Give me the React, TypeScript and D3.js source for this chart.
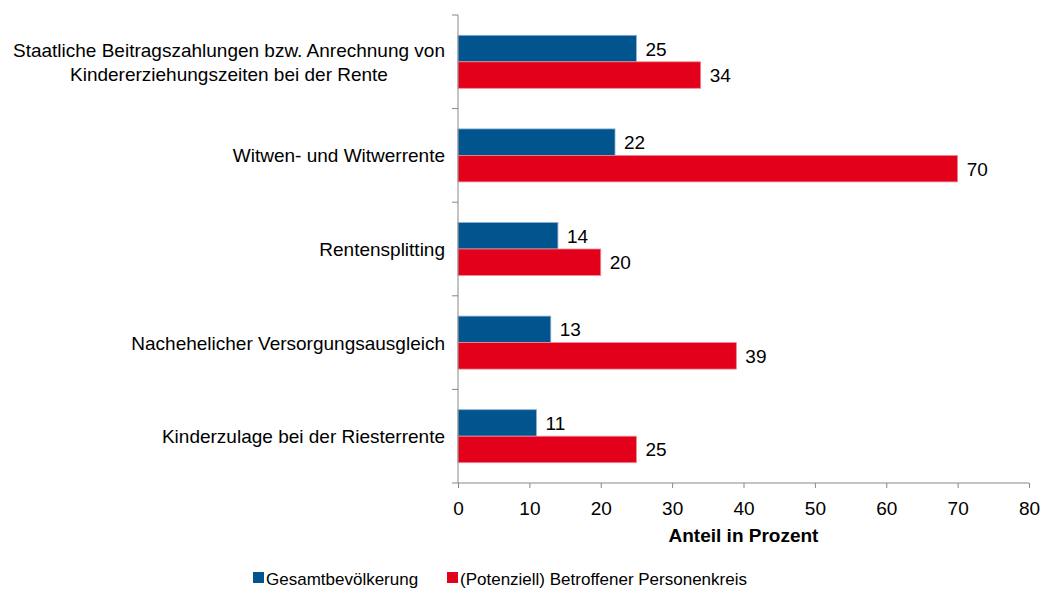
import React, { useEffect, useRef } from 'react';
import * as d3 from 'd3';

const categories = [
  ['Staatliche Beitragszahlungen bzw. Anrechnung von', 'Kindererziehungszeiten bei der Rente'],
  ['Witwen- und Witwerrente'],
  ['Rentensplitting'],
  ['Nachehelicher Versorgungsausgleich'],
  ['Kinderzulage bei der Riesterrente'],
];
const gesamt = [25, 22, 14, 13, 11];
const betroffen = [34, 70, 20, 39, 25];
const seriesNames = ['Gesamtbevölkerung', '(Potenziell) Betroffener Personenkreis'];
const colors = ['#02548F', '#E2001A'];
const xTicks = [0, 10, 20, 30, 40, 50, 60, 70, 80];

const App = () => {
  const svgRef = useRef<SVGSVGElement>(null);

  useEffect(() => {
    if (!svgRef.current) return;
    const svg = d3.select(svgRef.current);
    svg.selectAll('*').remove();

    const width = 1042;
    const height = 590;
    const left = 458, right = 1029, top = 15, bottom = 483;
    const font = 'Liberation Sans, Arial, sans-serif';
    const fs = 19;

    const x = d3.scaleLinear().domain([0, 80]).range([left, right]);
    const y = d3.scaleBand<number>().domain(d3.range(categories.length)).range([top, bottom]);
    const barH = 26.5;

    svg.attr('width', width).attr('height', height).style('font-family', font);

    // Bars
    const series = [gesamt, betroffen];
    series.forEach((vals, s) => {
      const g = svg.append('g');
      g.selectAll('rect')
        .data(vals)
        .join('rect')
        .attr('x', x(0))
        .attr('y', (_, i) => y(i)! + y.bandwidth() / 2 - barH + s * barH)
        .attr('width', d => x(d) - x(0))
        .attr('height', barH)
        .attr('fill', colors[s])
        .attr('stroke', s === 0 ? '#8fb3d3' : '#f08a96')
        .attr('stroke-width', 0.8);
      g.selectAll('text')
        .data(vals)
        .join('text')
        .attr('x', d => x(d) + 9)
        .attr('y', (_, i) => y(i)! + y.bandwidth() / 2 - barH + s * barH + barH / 2 + 7)
        .attr('font-size', fs)
        .attr('fill', '#000')
        .text(d => d);
    });

    // X axis
    const xAxis = svg.append('g')
      .attr('transform', `translate(0,${bottom})`)
      .call(d3.axisBottom(x).tickValues(xTicks).tickSize(5).tickPadding(8));
    xAxis.select('.domain').attr('stroke', '#888').attr('d', `M${left},0H${right}`);
    xAxis.selectAll('.tick line').attr('stroke', '#888');
    xAxis.selectAll('.tick text')
      .attr('font-size', fs).attr('font-family', font).attr('fill', '#000')
      .attr('y', 32).attr('dy', null);

    // Y axis
    svg.append('line')
      .attr('x1', left).attr('x2', left)
      .attr('y1', top).attr('y2', bottom)
      .attr('stroke', '#888');
    svg.append('g')
      .selectAll('line')
      .data(d3.range(categories.length + 1))
      .join('line')
      .attr('x1', left - 6).attr('x2', left)
      .attr('y1', i => top + i * y.step())
      .attr('y2', i => top + i * y.step())
      .attr('stroke', '#888');

    // Category labels (multi-line blocks right-aligned, lines centred in block)
    categories.forEach((lines, i) => {
      const cy = y(i)! + y.bandwidth() / 2;
      const lh = 24;
      const t = svg.append('text')
        .attr('font-size', fs)
        .attr('fill', '#000');
      const spans = lines.map((ln, j) =>
        t.append('tspan')
          .attr('y', cy + 7 + (j - (lines.length - 1) / 2) * lh)
          .text(ln));
      if (lines.length === 1) {
        t.attr('text-anchor', 'end');
        spans[0].attr('x', 445);
      } else {
        const maxW = d3.max(spans, sp => (sp.node() as SVGTSpanElement).getComputedTextLength()) ?? 0;
        t.attr('text-anchor', 'middle');
        spans.forEach(sp => sp.attr('x', 445 - maxW / 2));
      }
    });

    // Axis title
    svg.append('text')
      .attr('x', (left + right) / 2)
      .attr('y', 542)
      .attr('text-anchor', 'middle')
      .attr('font-size', fs)
      .attr('font-weight', 'bold')
      .text('Anteil in Prozent');

    // Legend
    const legendX = [253, 447];
    seriesNames.forEach((name, s) => {
      svg.append('rect')
        .attr('x', legendX[s]).attr('y', 572)
        .attr('width', 11).attr('height', 11)
        .attr('fill', colors[s]);
      svg.append('text')
        .attr('x', legendX[s] + 13)
        .attr('y', 585)
        .attr('font-size', 17)
        .text(name);
    });
  }, []);

  return <svg ref={svgRef} style={{ display: 'block', position: 'absolute', left: 0, top: 0, overflow: 'visible' }}></svg>;
};

export default App;
